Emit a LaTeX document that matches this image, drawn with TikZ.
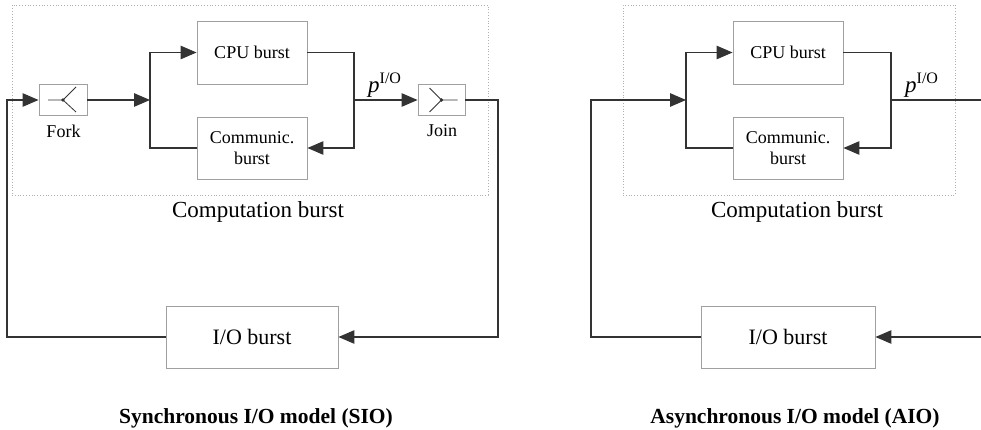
\documentclass[tikz,border=0pt]{standalone}
\usepackage{fontspec}
\setmainfont{Liberation Serif}
\usetikzlibrary{arrows.meta}
\definecolor{boxgray}{HTML}{A0A0A0}
\definecolor{linec}{HTML}{333333}
\definecolor{dotgray}{HTML}{B0B0B0}
\begin{document}
\begin{tikzpicture}[x=1pt,y=-1pt,
 bx/.style={draw=boxgray, line width=0.9pt, inner sep=0pt, align=center, font=\fontsize{18}{21}\selectfont, fill=white},
 grp/.style={draw=dotgray, dotted, line width=0.8pt, inner sep=0pt},
 conn/.style={draw=linec, line width=1.1pt},
 arr/.style={conn, -{Triangle[length=16pt,width=13.5pt]}},
 sym/.style={draw=linec, line width=0.8pt},
 lbl/.style={font=\fontsize{18}{18}\selectfont, inner sep=0pt, anchor=base},
 big/.style={lbl, font=\fontsize{23}{23}\selectfont},
 ttl/.style={lbl, font=\fontsize{21.5}{21.5}\selectfont\bfseries},
 plbl/.style={inner sep=0pt, anchor=base west, font=\fontsize{23}{23}\selectfont}
]
\useasboundingbox (0,0) rectangle (981,430);

% ---------------- left: SIO ----------------
\node[grp, minimum width=476, minimum height=190] (compL) at (250,100) {};
\node[bx, minimum width=110, minimum height=63] (cpuL) at (252,52.5) {CPU burst};
\node[bx, minimum width=110, minimum height=62] (commL) at (252,148) {Communic.\\burst};
\node[bx, minimum width=48, minimum height=31] (forkL) at (63,100) {};
\node[bx, minimum width=47, minimum height=31] (joinL) at (441.5,100) {};
\node[bx, minimum width=172, minimum height=62, font=\fontsize{22}{22}\selectfont] (ioL) at (252,337) {I/O burst};
\node[lbl] (forkTL) at (63.5,138) {Fork};
\node[lbl] (joinTL) at (442,137) {Join};
\node[big] (compTL) at (258,218) {Computation burst};
\node[ttl] (titleL) at (256,423) {Synchronous I/O model (SIO)};
\node[plbl] (pL) at (368,93) {\textit{p}\raisebox{9pt}{\fontsize{16}{16}\selectfont I/O}};

\coordinate (splitL) at (150,100);
\coordinate (mergeL) at (354,100);
\coordinate (cornerLL) at (7,337);
\coordinate (cornerLR) at (498,337);

\draw[arr] (ioL.west) -- (cornerLL) |- (forkL.west);
\draw[arr] (forkL.east) -- (splitL);
\draw[arr] (splitL) |- (cpuL.west);
\draw[conn] (splitL) |- (commL.west);
\draw[conn] (cpuL.east) -| (mergeL);
\draw[arr] (mergeL) |- (commL.east);
\draw[arr] (mergeL) -- (joinL.west);
\draw[arr] (joinL.east) -| (cornerLR) -- (ioL.east);

% fork / join symbols
\draw[sym] (forkL.center) ++(-15,0) -- (forkL.center) -- ++(13,-13) (forkL.center) -- ++(13,12);
\fill[linec] (forkL.center) circle (1.8);
\draw[sym] (joinL.center) ++(-12,-12) -- (joinL.center) -- ++(16,0) (joinL.center) -- ++(-12,12);
\fill[linec] (joinL.center) circle (1.8);

% ---------------- right: AIO ----------------
\node[grp, minimum width=332, minimum height=190] (compR) at (789,100) {};
\node[bx, minimum width=110, minimum height=63] (cpuR) at (788,52.5) {CPU burst};
\node[bx, minimum width=110, minimum height=62] (commR) at (788,148) {Communic.\\burst};
\node[bx, minimum width=174, minimum height=62, font=\fontsize{22}{22}\selectfont] (ioR) at (788,337) {I/O burst};
\node[big] (compTR) at (797,218) {Computation burst};
\node[ttl] (titleR) at (795,423) {Asynchronous I/O model (AIO)};
\node[plbl] (pR) at (905,93) {\textit{p}\raisebox{9pt}{\fontsize{16}{16}\selectfont I/O}};

\coordinate (splitR) at (686,100);
\coordinate (mergeR) at (891,100);
\coordinate (cornerRL) at (591,337);
\coordinate (outR) at (982,100);
\coordinate (inR) at (982,337);

\draw[arr] (ioR.west) -- (cornerRL) |- (splitR);
\draw[arr] (splitR) |- (cpuR.west);
\draw[conn] (splitR) |- (commR.west);
\draw[conn] (cpuR.east) -| (mergeR);
\draw[arr] (mergeR) |- (commR.east);
\draw[conn] (mergeR) -- (outR);
\draw[arr] (inR) -- (ioR.east);
\end{tikzpicture}
\end{document}
